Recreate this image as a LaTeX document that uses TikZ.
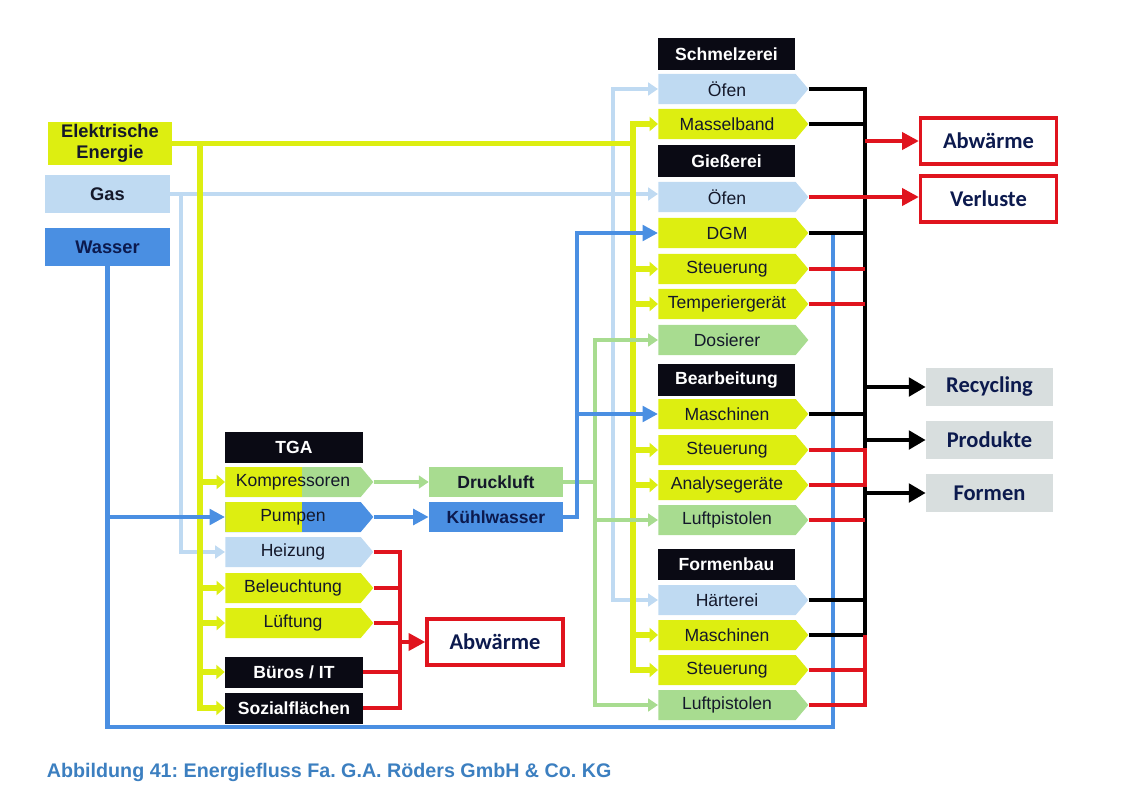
\documentclass[tikz,border=0pt]{standalone}
\usepackage{fontspec}
\setmainfont{Liberation Sans}
\newfontfamily\cali{Carlito}
\usetikzlibrary{shapes.symbols,arrows.meta}
\frenchspacing

\definecolor{yel}{HTML}{DDEE11}
\definecolor{lblue}{HTML}{BFDAF2}
\definecolor{wblue}{HTML}{4A8FE2}
\definecolor{lgreen}{HTML}{A8DC90}
\definecolor{rred}{HTML}{E0141E}
\definecolor{hdblack}{HTML}{0A0A14}
\definecolor{txt}{HTML}{14182A}
\definecolor{navy}{HTML}{0C1A4E}
\definecolor{outgrey}{HTML}{D8DEDE}
\definecolor{capblue}{HTML}{3C7FC0}

\begin{document}
\begin{tikzpicture}[x=0.025cm,y=-0.025cm,
  font=\fontsize{12.5}{14}\selectfont,
  box/.style={rectangle,inner sep=0pt,text=txt},
  hd/.style={box,fill=hdblack,text=white,font=\bfseries\fontsize{12.5}{14}\selectfont,
    minimum width=3.425cm,minimum height=0.775cm},
  sig/.style={signal,signal to=east,signal pointer angle=100,inner sep=0pt,
    anchor=west,text=txt,minimum width=3.75cm,minimum height=0.75cm},
  tsig/.style={sig,minimum width=3.7cm},
  halfyel/.style={path picture={\fill[yel] (path picture bounding box.south west)
    rectangle ([xshift=1.925cm]path picture bounding box.north west);}},
  inbox/.style={box,font=\bfseries\fontsize{13}{14.5}\selectfont,minimum width=3.125cm,minimum height=0.95cm},
  outr/.style={box,draw=rred,line width=2.2pt,fill=white,text=navy,
    font=\cali\bfseries\fontsize{16}{18}\selectfont,minimum width=3.4cm,minimum height=1.15cm},
  outg/.style={box,fill=outgrey,text=navy,
    font=\cali\bfseries\fontsize{16}{18}\selectfont,minimum width=3.175cm,minimum height=0.97cm},
  elline/.style={yel,line width=4.2pt},
  gasline/.style={lblue,line width=2.8pt},
  wline/.style={wblue,line width=3.4pt},
  dlline/.style={lgreen,line width=2.8pt},
  bline/.style={black,line width=3.5pt},
  rline/.style={rred,line width=3.5pt},
  ahE/.style={-{Triangle[width=10pt,length=6pt]}},
  ahG/.style={-{Triangle[width=9pt,length=7pt]}},
  ahW/.style={-{Triangle[width=11pt,length=11pt]}},
  ahR/.style={-{Triangle[width=12pt,length=12pt]}},
  ahB/.style={-{Triangle[width=13pt,length=12pt]}}]

\useasboundingbox (0,0) rectangle (1126,789);

% Quellen
\node[inbox,fill=yel,align=center,minimum width=3.1cm,minimum height=1.075cm] (elek) at (110,143.5) {Elektrische\\Energie};
\node[inbox,fill=lblue] (gas) at (107.5,194) {Gas};
\node[inbox,fill=wblue,text=navy] (wasser) at (107.5,247) {Wasser};

% TGA
\node[hd,minimum width=3.45cm] (tga) at (294,447) {TGA};
\node[tsig,fill=lgreen,halfyel] (komp) at (225,482) {Kompressoren};
\node[tsig,fill=wblue,halfyel] (pump) at (225,517) {Pumpen};
\node[tsig,fill=lblue] (heiz) at (225,552) {Heizung};
\node[tsig,fill=yel] (bel) at (225,588) {Beleuchtung};
\node[tsig,fill=yel] (lueft) at (225,623) {Lüftung};
\node[hd,minimum width=3.45cm] (bueros) at (294,672) {Büros / IT};
\node[hd,minimum width=3.45cm] (sozial) at (294,708) {Sozialflächen};

\node[box,fill=lgreen,font=\bfseries\fontsize{12.5}{14}\selectfont,minimum width=3.35cm,minimum height=0.75cm] (druck) at (496,482) {Druckluft};
\node[box,fill=wblue,text=navy,font=\bfseries\fontsize{12.5}{14}\selectfont,minimum width=3.35cm,minimum height=0.75cm] (kuehl) at (496,517) {Kühlwasser};
\node[outr] (abwL) at (495,642) {Abwärme};

% Bereiche
\foreach \n/\y/\t in {hS/54/Schmelzerei, hG/161/Gießerei, hB/380/Bearbeitung, hF/564/Formenbau}
  \node[hd] (\n) at (726.5,\y) {\t};
\foreach \n/\c/\y/\t in {sOfen/lblue/89/Öfen, sMassel/yel/124/Masselband,
    gOfen/lblue/197/Öfen, gDGM/yel/233/DGM, gSteu/yel/269/Steuerung,
    gTemp/yel/304/Temperiergerät, gDos/lgreen/340/Dosierer,
    bMasch/yel/414/Maschinen, bSteu/yel/450/Steuerung, bAna/yel/485/Analysegeräte,
    bLuft/lgreen/520/Luftpistolen, fHaert/lblue/600/Härterei,
    fMasch/yel/635/Maschinen, fSteu/yel/670/Steuerung, fLuft/lgreen/705/Luftpistolen}
  \node[sig,fill=\c] (\n) at (658,\y) {\t};

% Senken
\node[outr] (abwR) at (988.5,141) {Abwärme};
\node[outr] (verl) at (988.5,199) {Verluste};
\node[outg] (recyc) at (989.5,387) {Recycling};
\node[outg,minimum height=0.925cm] (prod) at (989.5,440) {Produkte};
\node[outg] (formen) at (989.5,493) {Formen};

% Leitungen
\coordinate (xGasL) at (181,0);
\coordinate (xElL) at (200,0);
\coordinate (xRedL) at (400,0);
\coordinate (xKw) at (577,0);
\coordinate (xDl) at (595,0);
\coordinate (xGasR) at (613,0);
\coordinate (xElR) at (633,0);
\coordinate (xBus) at (865,0);
\coordinate (wbot) at (833,727);

% Gas
\draw[gasline,ahG] (gas.east) -- (gas.east -| gOfen.west);
\draw[gasline,ahG] (gas.east -| xGasL) |- (heiz.west);
\draw[gasline,ahG] (gas.east -| xGasR) |- (sOfen.west);
\draw[gasline,ahG] (gas.east -| xGasR) |- (fHaert.west);

% Strom
\draw[elline,ahE] (elek.east) -| (xElR |- sMassel.west) -- (sMassel.west);
\draw[elline,ahE] (elek.east -| xElR) |- (fSteu.west);
\foreach \n in {gSteu,gTemp,bSteu,bAna,fMasch}
  \draw[elline,ahE] (\n.west -| xElR) -- (\n.west);
\draw[elline,ahE] (elek.east -| xElL) |- (sozial.west);
\foreach \n in {komp,bel,lueft,bueros}
  \draw[elline,ahE] (\n.west -| xElL) -- (\n.west);

% Druckluft
\draw[dlline,ahG] (komp.east) -- (druck.west);
\draw[dlline,ahG] (druck.east) -| (xDl |- gDos.west) -- (gDos.west);
\draw[dlline,ahG] (druck.east -| xDl) |- (fLuft.west);
\draw[dlline,ahG] (bLuft.west -| xDl) -- (bLuft.west);

% Wasser
\draw[wline] (wasser.south) |- (wbot) -- (wbot |- gDGM.east);
\draw[wline,ahW] (wasser.south |- pump.west) -- (pump.west);
\draw[wline,ahW] (pump.east) -- (kuehl.west);
\draw[wline,ahW] (kuehl.east) -| (xKw |- gDGM.west) -- (gDGM.west);
\draw[wline,ahW] (bMasch.west -| xKw) -- (bMasch.west);

% Abgaben
\draw[bline] (sOfen.east) -| (xBus |- fMasch.east) -- (fMasch.east);
\foreach \n in {sMassel,gDGM,bMasch,fHaert}
  \draw[bline] (\n.east) -- (\n.east -| xBus);
\foreach \n in {gSteu,gTemp,bLuft,fSteu}
  \draw[rline] (\n.east) -- (\n.east -| xBus);
\draw[rline] (bSteu.east) -| (xBus |- bAna.east) -- (bAna.east);
\draw[rline] (fMasch.east -| xBus) |- (fLuft.east);
\draw[rline,ahR] (gOfen.east) -- (gOfen.east -| verl.west);
\draw[rline,ahR] (abwR.west -| xBus) -- (abwR.west);
\foreach \n in {recyc,prod,formen}
  \draw[bline,ahB] (\n.west -| xBus) -- (\n.west);

\draw[rline] (heiz.east) -| (xRedL |- sozial.east) -- (sozial.east);
\foreach \n in {bel,lueft,bueros}
  \draw[rline] (\n.east) -- (\n.east -| xRedL);
\draw[rline,ahR] (abwL.west -| xRedL) -- (abwL.west);

% Titel
\node[anchor=west,text=capblue,font=\bfseries\fontsize{14}{16}\selectfont] (cap) at (42,772)
  {Abbildung 41: Energiefluss Fa. G.A. Röders GmbH \& Co. KG};
\end{tikzpicture}
\end{document}
